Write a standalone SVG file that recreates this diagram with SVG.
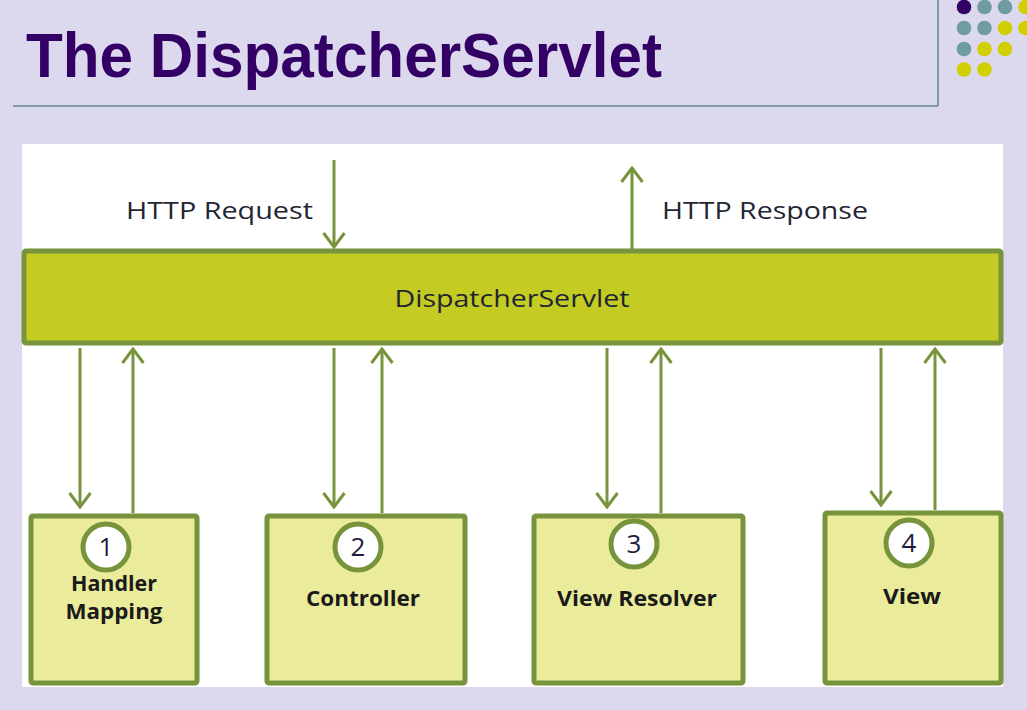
<svg xmlns="http://www.w3.org/2000/svg" width="1027" height="710" viewBox="0 0 1027 710">
  <style>
    .title { font-family: "Liberation Sans", Arial, sans-serif; font-weight: bold; font-size: 63px; fill: #330066; }
    .lbl { font-family: "Open Sans", "DejaVu Sans", sans-serif; font-size: 23px; fill: #1E2533; }
    .bar { fill: #C4CB22; stroke: #77933C; stroke-width: 5; }
    .box { fill: #EAEC9C; stroke: #77933C; stroke-width: 5; }
    .badge { fill: #FFFFFF; stroke: #77933C; stroke-width: 5; }
    .num { font-family: "Open Sans", "DejaVu Sans", sans-serif; font-size: 26px; fill: #1F2040; text-anchor: middle; }
    .name { font-family: "Open Sans", "DejaVu Sans", sans-serif; font-weight: bold; font-size: 21.5px; fill: #1A1A1A; text-anchor: middle; }
    .conn { stroke: #77933C; stroke-width: 3; fill: none; marker-end: url(#arr); }
    .rule { stroke: #7F9AA8; stroke-width: 2; }
  </style>
  <defs>
    <marker id="arr" markerUnits="userSpaceOnUse" viewBox="-17 -13 19 26" refX="0" refY="0" markerWidth="19" markerHeight="26" orient="auto">
      <path d="M-14,-10.5 L0,0 L-14,10.5" fill="none" stroke="#77933C" stroke-width="3" stroke-linejoin="miter"/>
    </marker>
  </defs>

  <rect x="0" y="0" width="1027" height="710" fill="#DCD9EE"/>

  <g id="header">
    <text class="title" x="26" y="77" textLength="636" lengthAdjust="spacingAndGlyphs">The DispatcherServlet</text>
    <line class="rule" x1="13" y1="106" x2="938" y2="106"/>
    <line class="rule" x1="938" y1="0" x2="938" y2="106"/>
    <g id="dots">
      <circle cx="964" cy="7" r="7.3" fill="#330066"/>
      <circle cx="984.5" cy="7" r="7.3" fill="#6E9C9F"/>
      <circle cx="1005" cy="7" r="7.3" fill="#6E9C9F"/>
      <circle cx="1025.5" cy="7" r="7.3" fill="#D2CF00"/>
      <circle cx="964" cy="28" r="7.3" fill="#6E9C9F"/>
      <circle cx="984.5" cy="28" r="7.3" fill="#6E9C9F"/>
      <circle cx="1005" cy="28" r="7.3" fill="#D2CF00"/>
      <circle cx="1025.5" cy="28" r="7.3" fill="#D2CF00"/>
      <circle cx="964" cy="49" r="7.3" fill="#6E9C9F"/>
      <circle cx="984.5" cy="49" r="7.3" fill="#D2CF00"/>
      <circle cx="1005" cy="49" r="7.3" fill="#D2CF00"/>
      <circle cx="964" cy="69.5" r="7.3" fill="#D2CF00"/>
      <circle cx="984.5" cy="69.5" r="7.3" fill="#D2CF00"/>
    </g>
  </g>

  <rect x="22" y="144" width="981" height="543" fill="#FFFFFF"/>

  <g id="dispatcher">
    <rect class="bar" x="24" y="251" width="977" height="92" rx="2"/>
    <text class="lbl" x="512" y="307" text-anchor="middle" fill="#1A1A1A" textLength="235" lengthAdjust="spacingAndGlyphs">DispatcherServlet</text>
  </g>

  <g id="http-labels">
    <text class="lbl" x="126" y="219" textLength="187" lengthAdjust="spacingAndGlyphs">HTTP Request</text>
    <text class="lbl" x="662" y="219" textLength="206" lengthAdjust="spacingAndGlyphs">HTTP Response</text>
  </g>

  <g id="connectors">
    <line class="conn" x1="334" y1="160" x2="334" y2="247"/>
    <line class="conn" x1="632" y1="250" x2="632" y2="168"/>
    <line class="conn" x1="80" y1="348" x2="80" y2="507"/>
    <line class="conn" x1="133" y1="513" x2="133" y2="349"/>
    <line class="conn" x1="334" y1="348" x2="334" y2="507"/>
    <line class="conn" x1="382" y1="513" x2="382" y2="349"/>
    <line class="conn" x1="607" y1="348" x2="607" y2="507"/>
    <line class="conn" x1="661" y1="513" x2="661" y2="349"/>
    <line class="conn" x1="881" y1="348" x2="881" y2="505"/>
    <line class="conn" x1="935" y1="510" x2="935" y2="349"/>
  </g>

  <g id="handler-mapping">
    <rect class="box" x="31" y="516" width="166" height="167" rx="2"/>
    <circle class="badge" cx="106" cy="547" r="23"/>
    <text class="num" x="106" y="556">1</text>
    <text class="name" x="114" y="591" textLength="86" lengthAdjust="spacingAndGlyphs">Handler</text>
    <text class="name" x="114" y="619" textLength="97" lengthAdjust="spacingAndGlyphs">Mapping</text>
  </g>

  <g id="controller">
    <rect class="box" x="267" y="516" width="198" height="167" rx="2"/>
    <circle class="badge" cx="358" cy="547" r="23"/>
    <text class="num" x="358" y="556">2</text>
    <text class="name" x="363" y="606" textLength="114" lengthAdjust="spacingAndGlyphs">Controller</text>
  </g>

  <g id="view-resolver">
    <rect class="box" x="534" y="516" width="209" height="167" rx="2"/>
    <circle class="badge" cx="634" cy="544" r="23"/>
    <text class="num" x="634" y="553">3</text>
    <text class="name" x="637" y="606" textLength="160" lengthAdjust="spacingAndGlyphs">View Resolver</text>
  </g>

  <g id="view">
    <rect class="box" x="825" y="513" width="176" height="170" rx="2"/>
    <circle class="badge" cx="909" cy="543" r="23"/>
    <text class="num" x="909" y="552">4</text>
    <text class="name" x="912" y="604" textLength="58" lengthAdjust="spacingAndGlyphs">View</text>
  </g>
</svg>
